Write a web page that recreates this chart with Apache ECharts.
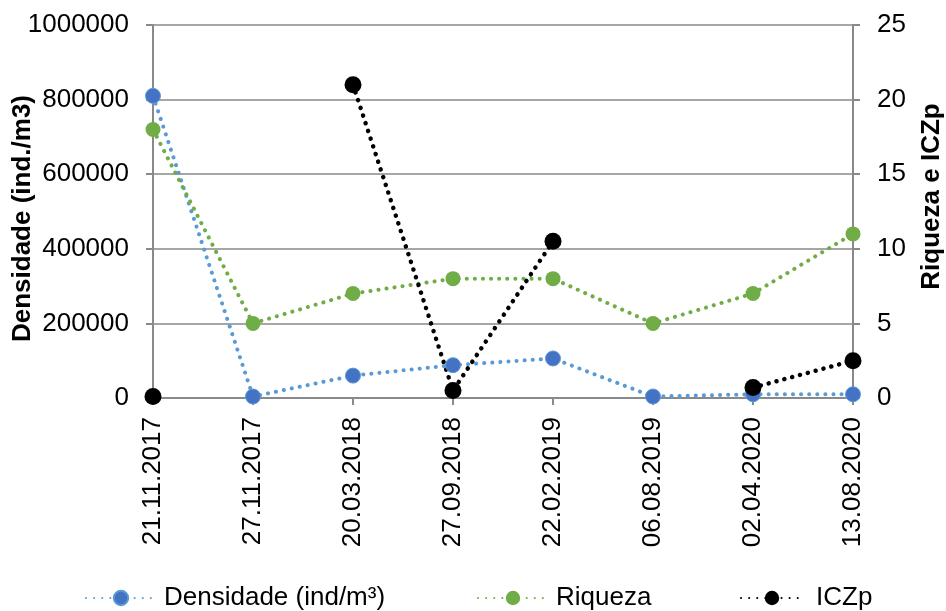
<!DOCTYPE html>
<html>
<head>
<meta charset="utf-8">
<script src="https://cdn.jsdelivr.net/npm/echarts@6/dist/echarts.min.js"></script>
<style>
  html, body { margin: 0; padding: 0; background: #fff; }
  #chart { width: 946px; height: 611px; }
</style>
</head>
<body>
<div id="chart"></div>
<script>
// Sampling dates
const dates = ['21.11.2017', '27.11.2017', '20.03.2018', '27.09.2018', '22.02.2019', '06.08.2019', '02.04.2020', '13.08.2020'];
// Density (ind/m³), left axis
const densidade = [810000, 4000, 60000, 88000, 106000, 4000, 10000, 10000];
// Richness, right axis
const riqueza = [18, 5, 7, 8, 8, 5, 7, 11];
// ICZp index, right axis (null = not sampled)
const iczp = [0.1, null, 21, 0.5, 10.5, null, 0.7, 2.5];

const FONT = 'Liberation Sans';
const gridColor = '#898989';

function dotted(color, width) {
  return { color: color, width: width, type: [0.1, 8], cap: 'round' };
}

function legendFor(name, left, width, textPad) {
  return {
    top: 585,
    left: left,
    itemWidth: width,
    itemHeight: 18,
    itemGap: 0,
    padding: 0,
    textStyle: { fontFamily: FONT, fontSize: 26, color: '#000', padding: [0, 0, 0, textPad] },
    data: [name]
  };
}

const chart = echarts.init(document.getElementById('chart'), null, { renderer: 'canvas' });
chart.setOption({
  animation: false,
  textStyle: { fontFamily: FONT },
  grid: { left: 153, right: 93, top: 25, bottom: 213, containLabel: false, outerBoundsMode: 'none' },
  legend: [
    legendFor('Densidade (ind/m³)', 85, 70, 3),
    legendFor('Riqueza', 477, 70, 3),
    legendFor('ICZp', 740, 62, 8)
  ],
  xAxis: {
    type: 'category',
    data: dates,
    boundaryGap: false,
    axisLine: { lineStyle: { color: gridColor, width: 2 } },
    axisTick: { show: true, length: 7, lineStyle: { color: gridColor, width: 2 } },
    axisLabel: { rotate: 90, fontSize: 26, color: '#000', margin: 19, fontFamily: FONT }
  },
  yAxis: [
    {
      type: 'value',
      min: 0, max: 1000000, interval: 200000,
      name: 'Densidade (ind./m3)',
      nameLocation: 'middle',
      nameRotate: 90,
      nameGap: 117,
      nameMoveOverlap: false,
      nameTextStyle: { fontSize: 26, fontWeight: 'bold', color: '#000', fontFamily: FONT, padding: [0, 14, 0, 0] },
      axisLine: { show: true, lineStyle: { color: gridColor, width: 2 } },
      axisTick: { show: true, length: 7, lineStyle: { color: gridColor, width: 2 } },
      axisLabel: { fontSize: 26, color: '#000', margin: 24, fontFamily: FONT, formatter: v => String(v) },
      splitLine: { show: true, lineStyle: { color: gridColor, width: 1.5 } }
    },
    {
      type: 'value',
      min: 0, max: 25, interval: 5,
      name: 'Riqueza e ICZp',
      nameLocation: 'middle',
      nameRotate: 90,
      nameGap: 66,
      nameMoveOverlap: false,
      nameTextStyle: { fontSize: 26, fontWeight: 'bold', color: '#000', fontFamily: FONT, padding: [0, 0, 0, 30] },
      axisLine: { show: true, lineStyle: { color: gridColor, width: 2 } },
      axisTick: { show: true, length: 7, lineStyle: { color: gridColor, width: 2 } },
      axisLabel: { fontSize: 26, color: '#000', margin: 24, fontFamily: FONT },
      splitLine: { show: false }
    }
  ],
  series: [
    {
      name: 'Densidade (ind/m³)',
      type: 'line',
      yAxisIndex: 0,
      data: densidade,
      symbol: 'circle',
      symbolSize: 15,
      itemStyle: { color: '#4472C4', borderColor: '#5B9BD5', borderWidth: 1 },
      lineStyle: dotted('#5B9BD5', 4)
    },
    {
      name: 'Riqueza',
      type: 'line',
      yAxisIndex: 1,
      data: riqueza,
      symbol: 'circle',
      symbolSize: 15,
      itemStyle: { color: '#70AD47' },
      lineStyle: dotted('#70AD47', 4)
    },
    {
      name: 'ICZp',
      type: 'line',
      yAxisIndex: 1,
      data: iczp,
      connectNulls: false,
      symbol: 'circle',
      symbolSize: 17,
      itemStyle: { color: '#000' },
      lineStyle: dotted('#000', 4.5)
    }
  ]
});
</script>
</body>
</html>
